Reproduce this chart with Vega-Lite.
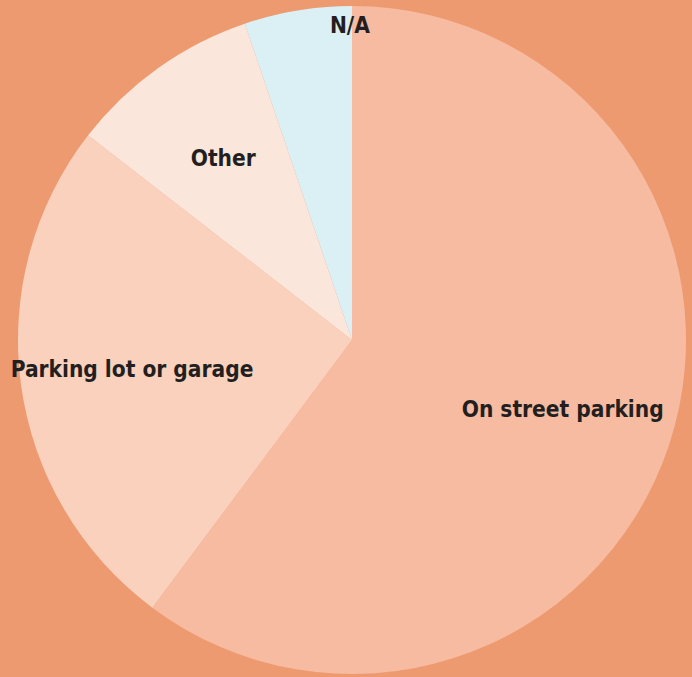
{
  "$schema": "https://vega.github.io/schema/vega-lite/v6.json",
  "width": 680,
  "height": 674,
  "autosize": "none",
  "padding": {"left": 12, "right": 0, "top": 3, "bottom": 0},
  "background": "#EE9A70",
  "view": {"stroke": null},
  "data": {
    "values": [
      {"category": "On street parking", "share": 60.2, "order": 1},
      {"category": "Parking lot or garage", "share": 25.3, "order": 2},
      {"category": "Other", "share": 9.3, "order": 3},
      {"category": "N/A", "share": 5.2, "order": 4}
    ]
  },
  "encoding": {
    "theta": {"field": "share", "type": "quantitative", "stack": true},
    "order": {"field": "order", "type": "quantitative"}
  },
  "layer": [
    {
      "mark": {"type": "arc", "outerRadius": 334},
      "encoding": {
        "color": {
          "field": "category",
          "type": "nominal",
          "scale": {
            "domain": ["On street parking", "Parking lot or garage", "Other", "N/A"],
            "range": ["#F6BBA0", "#F9D1BC", "#FBE6DC", "#DAF0F4"]
          },
          "legend": null
        }
      }
    },
    {
      "mark": {"type": "text", "radius": 222, "font": "DejaVu Sans Condensed", "fontWeight": "bold", "fontSize": 22.5, "color": "#231F20", "align": "center", "baseline": "middle"},
      "encoding": {
        "text": {"field": "category", "type": "nominal"},
        "opacity": {"condition": {"test": "datum.category === 'N/A'", "value": 0}, "value": 1}
      }
    },
    {
      "mark": {"type": "text", "radius": 314, "dx": 49, "dy": -4, "font": "DejaVu Sans Condensed", "fontWeight": "bold", "fontSize": 22.5, "color": "#231F20", "align": "center", "baseline": "middle"},
      "encoding": {
        "text": {"field": "category", "type": "nominal"},
        "opacity": {"condition": {"test": "datum.category === 'N/A'", "value": 1}, "value": 0}
      }
    }
  ]
}
